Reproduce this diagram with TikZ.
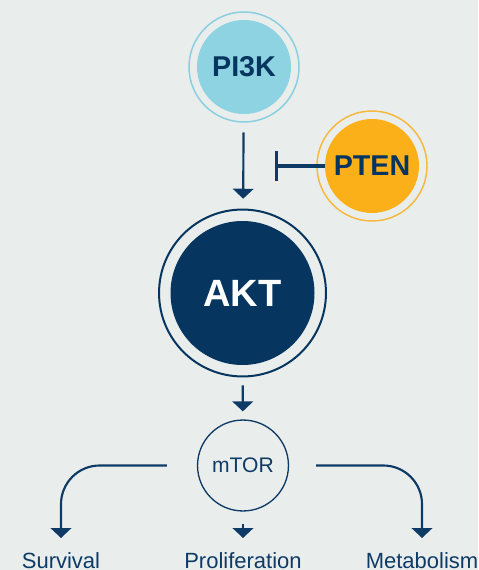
\documentclass[tikz,border=0pt]{standalone}
\usepackage{fontspec}
\setmainfont{Liberation Sans}
\usetikzlibrary{arrows.meta,calc}
\definecolor{bgc}{HTML}{E9EDEC}
\definecolor{navy}{HTML}{06365F}
\definecolor{linec}{HTML}{0E3B66}
\definecolor{lblue}{HTML}{8DD3E1}
\definecolor{lbluering}{HTML}{88D0E0}
\definecolor{orng}{HTML}{FBB019}
\definecolor{orngring}{HTML}{F6B83E}
\tikzset{
  px/.style={x=0.75pt,y=-0.75pt},
  smallcirc/.style={circle,inner sep=0pt,minimum size=70.5pt,font=\fontsize{21.5}{24}\selectfont\bfseries,text=navy},
  ring/.style={line width=1.1pt},
  arr/.style={draw=linec,line width=1.6pt,-{Triangle[width=15.5pt,length=7.5pt]}},
  inh/.style={draw=linec,line width=2.6pt,-{Bar[width=22.5pt]}},
  lbl/.style={anchor=base,text=linec,font=\fontsize{16.5}{18}\selectfont},
}
\begin{document}
\begin{tikzpicture}[px]
\fill[bgc] (0,0) rectangle (478,570);
\useasboundingbox (0,0) rectangle (478,570);
% nodes
\node[smallcirc,fill=lblue] (pi3k) at (244,67) {PI3K};
\draw[ring,draw=lbluering] (pi3k.center) circle[radius=41.25pt];
\node[smallcirc,fill=orng] (pten) at (372,166) {PTEN};
\draw[ring,draw=orngring] (pten.center) circle[radius=41.25pt];
\node[circle,inner sep=0pt,minimum size=108pt,fill=navy,text=white,font=\fontsize{28.5}{30}\selectfont\bfseries] (akt) at (242.5,293) {AKT};
\draw[line width=1.5pt,draw=navy] (akt.center) circle[radius=62.6pt];
\node[circle,inner sep=0pt,minimum size=68.2pt,draw=linec,line width=1pt,text=linec,font=\fontsize{15.8}{18}\selectfont] (mtor) at (243,465.5) {mTOR};
% labels
\node[lbl] (surv) at (61,568) {Survival};
\node[lbl] (prol) at (243,568) {Proliferation};
\node[lbl] (meta) at (422,568) {Metabolism};
% connectors
\draw[arr,shorten <=13.5pt,shorten >=16.5pt] (pi3k) -- (akt);
\coordinate (inhend) at (275,166);
\draw[inh] (pten.west) -- (inhend);
\draw[arr,shorten <=15pt,shorten >=6pt] (akt) -- (mtor);
\draw[arr,rounded corners=29pt] ($(mtor.west)+(-30,0)$) -| ($(surv.base)+(0,-30)$);
\draw[arr,rounded corners=29pt] ($(mtor.east)+(27,0)$) -| ($(meta.base)+(0,-30)$);
\draw[arr] ($(mtor.south)+(0,12.5)$) -- ($(prol.base)+(0,-30)$);
\end{tikzpicture}
\end{document}
